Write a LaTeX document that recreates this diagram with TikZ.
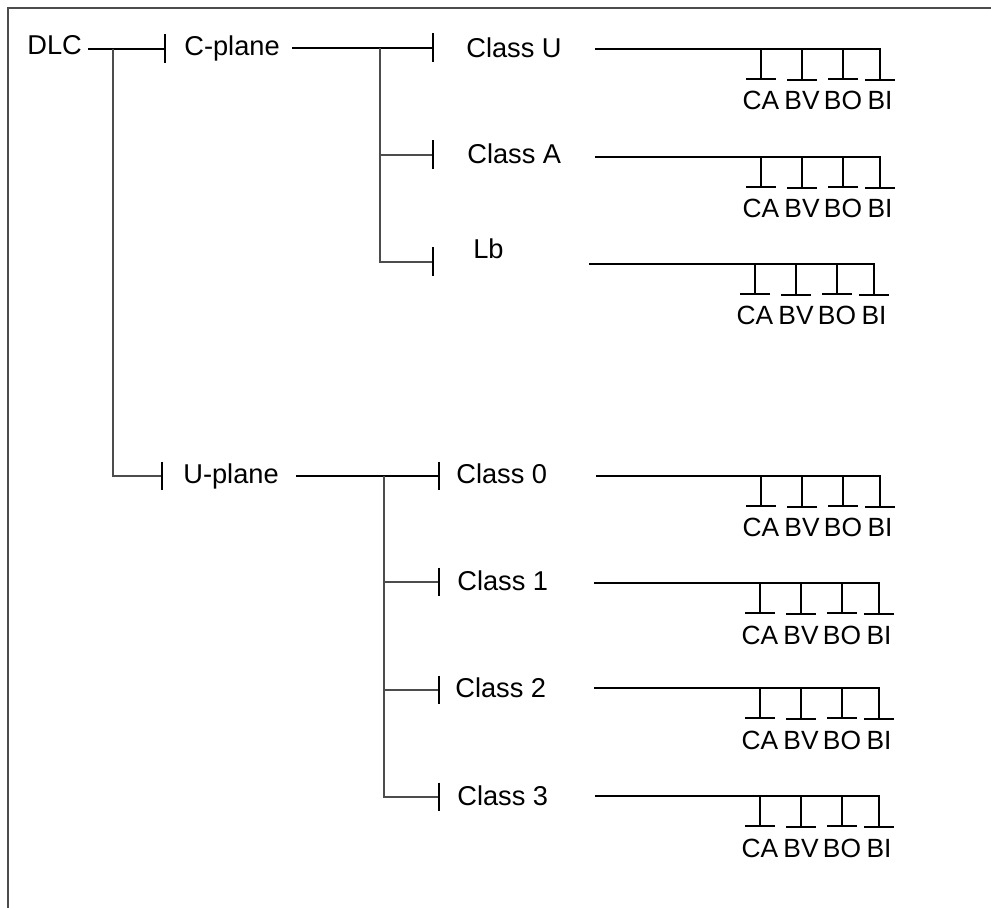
\documentclass[tikz,border=0pt]{standalone}
\usepackage{fontspec}
\setmainfont{Liberation Sans}
\usepackage{tikz}
\usetikzlibrary{arrows.meta,calc}

\begin{document}
\begin{tikzpicture}[
    x=0.02cm, y=-0.02cm,
    font=\fontsize{15.5}{18}\selectfont,
    lbl/.style={inner sep=0pt, anchor=base west},
    sig/.style={inner sep=0pt, anchor=base, font=\fontsize{15}{17}\selectfont},
    trunk/.style={line width=1.1pt},
    branch/.style={line width=0.6pt, draw=black!70},
    endbar/.style={-{Bar[width=0.58cm, line width=1.1pt, color=black]}},
    sigbar/.style={-{Bar[width=0.6cm, line width=1.1pt]}, shorten >=0.22cm}
]
\useasboundingbox (0,0) rectangle (991,908);
\draw[line width=1pt, black!70] (8,908) -- (8,8) -- (991,8);

\node[lbl] (dlc) at (27,55) {DLC};
\node[lbl] (cplane) at (184,56) {C-plane};
\node[lbl] (uplane) at (183,484) {U-plane};
\node[lbl] (classU) at (466,58) {Class U};
\node[lbl] (classA) at (467,164) {Class A};
\node[lbl] (lb) at (473,259) {Lb};
\node[lbl] (class0) at (456,484) {Class 0};
\node[lbl] (class1) at (457,591) {Class 1};
\node[lbl] (class2) at (455,698) {Class 2};
\node[lbl] (class3) at (457,805) {Class 3};

\coordinate (dlc-j) at (113,49);
\coordinate (cp-in) at (166,49);
\coordinate (up-in) at (163,476);
\coordinate (cp-j) at (380,48);
\coordinate (cu-in) at (434,48);
\coordinate (ca-in) at (434,155);
\coordinate (lb-in) at (434,262);
\coordinate (up-j) at (384,476);
\coordinate (c0-in) at (440,476);
\coordinate (c1-in) at (440,582);
\coordinate (c2-in) at (440,690);
\coordinate (c3-in) at (440,797);

\draw[trunk, endbar, shorten <=0.12cm] (dlc.east |- cp-in) -- (cp-in);
\draw[branch, endbar] (dlc-j) |- (up-in);
\draw[trunk, endbar, shorten <=0.24cm] (cplane.east |- cu-in) -- (cu-in);
\draw[branch, endbar] (cp-j) |- (ca-in);
\draw[branch, endbar] (cp-j) |- (lb-in);
\draw[trunk, endbar, shorten <=0.34cm] (uplane.east |- c0-in) -- (c0-in);
\draw[branch, endbar] (up-j) |- (c1-in);
\draw[branch, endbar] (up-j) |- (c2-in);
\draw[branch, endbar] (up-j) |- (c3-in);

\foreach \r/\y/\s/\e in {u/49/595/880, a/157/595/880, lb/264/589/874, c0/476/596/880,
                         c1/583/594/879, c2/688/594/879, c3/796/595/879} {
  \coordinate (\r-bus) at (\s,\y);
  \foreach \n/\t/\d in {ca/CA/119, bv/BV/78, bo/BO/37, bi/BI/0}
    \node[sig] (\r-\n) at (\e-\d, \y+61) {\t};
  \draw[trunk, sigbar] (\r-bus) -| (\r-bi.north);
  \foreach \n in {ca, bv, bo}
    \draw[trunk, sigbar] (\r-\n.north |- \r-bus) -- (\r-\n.north);
}
\end{tikzpicture}
\end{document}
